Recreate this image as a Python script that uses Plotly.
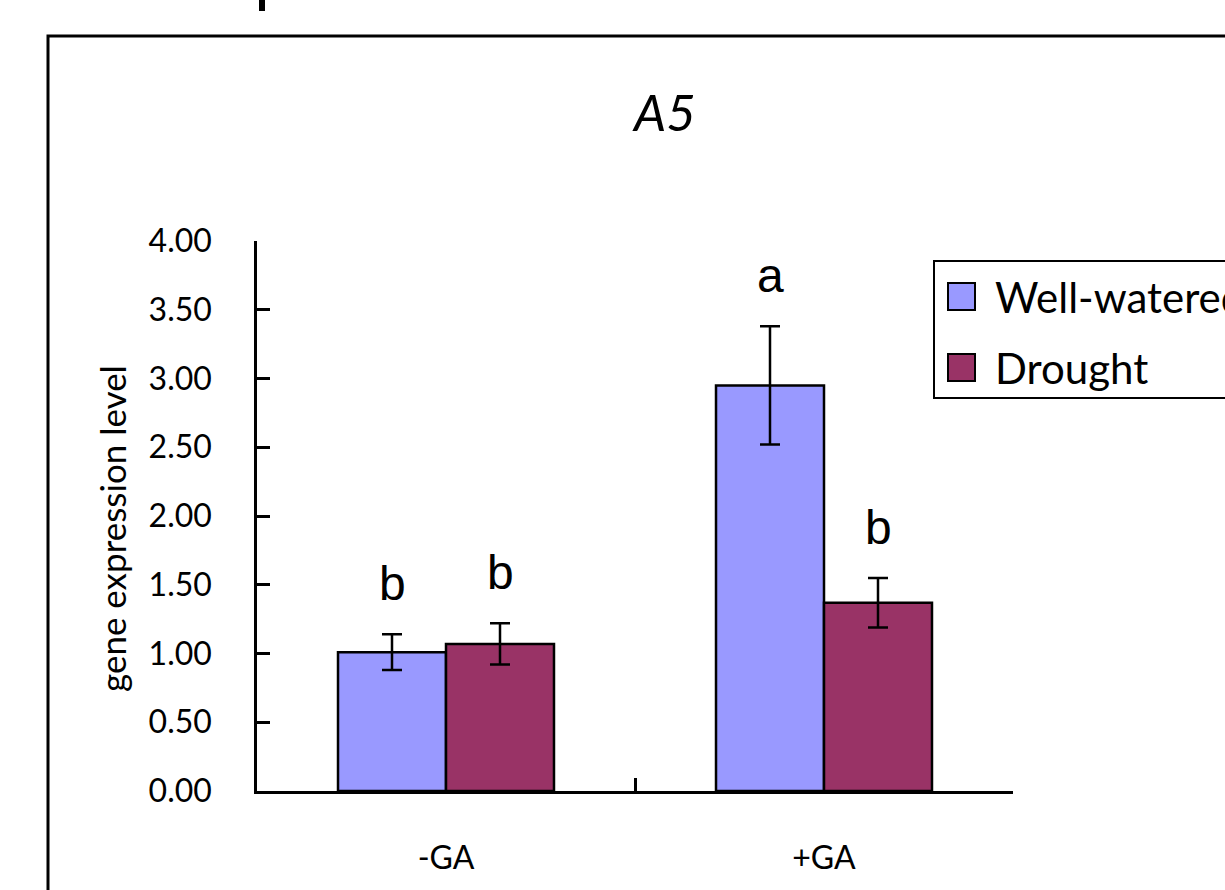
import plotly.graph_objects as go

categories = ["-GA", "+GA"]
series_names = ["Well-watered", "Drought"]
well_watered = [1.01, 2.95]
well_watered_err = [0.13, 0.43]
drought = [1.07, 1.37]
drought_err = [0.15, 0.18]
letters_ww = ["b", "a"]
letters_dr = ["b", "b"]
y_ticks = [0, 0.5, 1, 1.5, 2, 2.5, 3, 3.5, 4]
y_ticklabels = ["0.00", "0.50", "1.00", "1.50", "2.00", "2.50", "3.00", "3.50", "4.00"]

colors = ["#9999FF", "#993366"]

W, H = 1225, 890
PW, PH = 756, 550
L, T = 257, 241
R, B = W - L - PW, H - T - PH
X0, Y0 = 257, 791  # plot origin in screen pixels

def px(x):
    return (x - X0) / PW

def py(y):
    return (Y0 - y) / PH

FONT = "Lato"

fig = go.Figure()
for name, vals, errs, col in [
    (series_names[0], well_watered, well_watered_err, colors[0]),
    (series_names[1], drought, drought_err, colors[1]),
]:
    fig.add_trace(go.Bar(
        x=categories, y=vals, name=name,
        marker=dict(color=col, line=dict(color="black", width=2.5)),
        error_y=dict(type="data", array=errs, visible=True, color="black",
                     thickness=2.5, width=10),
        showlegend=False,
    ))

# significance letters
for cat, v, e, t in zip(categories, well_watered, well_watered_err, letters_ww):
    fig.add_annotation(x=cat, y=v + e, text=t, showarrow=False, xshift=-54,
                       yanchor="bottom", yshift=22,
                       font=dict(family="Liberation Sans", size=48, color="black"))
for cat, v, e, t in zip(categories, drought, drought_err, letters_dr):
    fig.add_annotation(x=cat, y=v + e, text=t, showarrow=False, xshift=54,
                       yanchor="bottom", yshift=22,
                       font=dict(family="Liberation Sans", size=48, color="black"))

# title
fig.add_annotation(xref="paper", yref="paper", x=px(664), y=py(112), text="<i>A5</i>",
                   showarrow=False, xanchor="center", yanchor="middle",
                   font=dict(family=FONT, size=51, color="black"))

# y-axis title
fig.add_annotation(xref="paper", yref="paper", x=px(112), y=py(529),
                   text="gene expression level", textangle=-90, showarrow=False,
                   xanchor="center", yanchor="middle",
                   font=dict(family=FONT, size=35, color="black"))

shapes = [
    # outer chart border
    dict(type="rect", xref="paper", yref="paper", x0=px(48), x1=px(1300),
         y0=py(950), y1=py(36), line=dict(color="black", width=3), layer="above"),
    # stub at top
    dict(type="line", xref="paper", yref="paper", x0=px(262), x1=px(262),
         y0=py(-5), y1=py(11), line=dict(color="black", width=6)),
    # legend box
    dict(type="rect", xref="paper", yref="paper", x0=px(934), x1=px(1300),
         y0=py(398), y1=py(261), line=dict(color="black", width=2), fillcolor="white"),
]
sq = [(283, 310), (354, 381)]
for (ya, yb), col, name in zip(sq, colors, series_names):
    shapes.append(dict(type="rect", xref="paper", yref="paper", x0=px(948), x1=px(975),
                       y0=py(yb), y1=py(ya), fillcolor=col,
                       line=dict(color="black", width=2)))
    fig.add_annotation(xref="paper", yref="paper", x=px(993), y=py((ya + yb) / 2),
                       text=name, showarrow=False, xanchor="left", yanchor="middle",
                       font=dict(family=FONT, size=42, color="black"))
fig.update_layout(shapes=shapes)

fig.update_layout(
    width=W, height=H,
    margin=dict(l=L, r=R, t=T, b=B, autoexpand=False),
    paper_bgcolor="white", plot_bgcolor="white",
    barmode="group", bargap=0.4286, bargroupgap=0,
    font=dict(family=FONT, color="black"),
)
fig.update_xaxes(
    showline=True, linecolor="black", linewidth=2.5,
    ticks="inside", ticklen=13, tickwidth=2.5, tickcolor="black",
    tickson="boundaries", showgrid=False,
    tickfont=dict(family=FONT, size=32, color="black"),
    ticklabelstandoff=37,
)
fig.update_yaxes(
    range=[0, 4], showline=True, linecolor="black", linewidth=2.5,
    ticks="inside", ticklen=13, tickwidth=2.5, tickcolor="black",
    tickvals=y_ticks, ticktext=y_ticklabels, showgrid=False, zeroline=False,
    tickfont=dict(family=FONT, size=32, color="black"),
    ticklabelstandoff=36,
)

fig.write_html(
    "out.html",
    config={"displayModeBar": False},
    post_script="document.body.style.margin='0';document.body.style.overflow='hidden';",
)
